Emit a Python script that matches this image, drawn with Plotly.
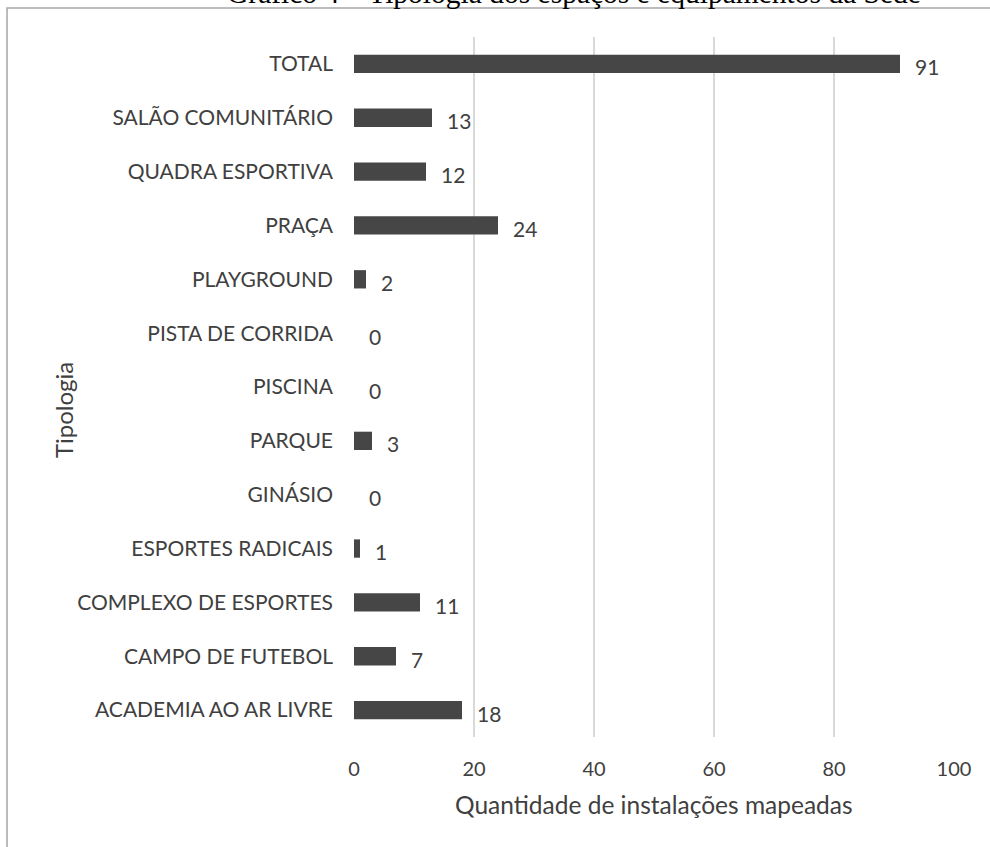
import plotly.graph_objects as go

categories = [
    "ACADEMIA AO AR LIVRE",
    "CAMPO DE FUTEBOL",
    "COMPLEXO DE ESPORTES",
    "ESPORTES RADICAIS",
    "GINÁSIO",
    "PARQUE",
    "PISCINA",
    "PISTA DE CORRIDA",
    "PLAYGROUND",
    "PRAÇA",
    "QUADRA ESPORTIVA",
    "SALÃO COMUNITÁRIO",
    "TOTAL",
]
values = [18, 7, 11, 1, 0, 3, 0, 0, 2, 24, 12, 13, 91]
x_ticks = [0, 20, 40, 60, 80, 100]

title_text = "Gráfico 4 – Tipologia dos espaços e equipamentos da Sede"
x_title = "Quantidade de instalações mapeadas"
y_title = "Tipologia"

FONT = "Lato"
TXT = "#404040"

fig = go.Figure()
fig.add_trace(go.Bar(
    x=values, y=categories, orientation="h",
    width=0.34,
    marker=dict(color="#464646", line=dict(width=0)),
    hoverinfo="x+y",
))

annotations = []
for c, v in zip(categories, values):
    annotations.append(dict(
        x=v, y=c, xref="x", yref="y", text=str(v), showarrow=False,
        xanchor="left", yanchor="middle", xshift=13, yshift=-3,
        font=dict(family=FONT, size=21, color=TXT),
    ))

# axis titles
annotations.append(dict(
    x=0.5, y=-0.0964, xref="paper", yref="paper", text=x_title, showarrow=False,
    xanchor="center", yanchor="middle",
    font=dict(family=FONT, size=24.5, color=TXT),
))
annotations.append(dict(
    x=-0.485, y=0.467, xref="paper", yref="paper", text=y_title, showarrow=False,
    xanchor="center", yanchor="middle", textangle=-90,
    font=dict(family=FONT, size=24, color=TXT),
))
# clipped document caption at the very top
annotations.append(dict(
    x=0.367, y=1.0375, xref="paper", yref="paper", text=title_text, showarrow=False,
    xanchor="center", yanchor="bottom",
    font=dict(family="Liberation Serif", size=29.5, color="#000000"),
))

fig.update_layout(
    width=990, height=847,
    margin=dict(l=354, r=36, t=37, b=110),
    paper_bgcolor="white", plot_bgcolor="white",
    showlegend=False,
    annotations=annotations,
    shapes=[dict(
        type="rect", xref="paper", yref="paper",
        x0=-0.5783, x1=1.1, y0=1.0414, y1=-0.2,
        line=dict(color="#a6a6a6", width=1.5), fillcolor="rgba(0,0,0,0)",
        layer="below",
    )],
    xaxis=dict(
        range=[0, 100], tickvals=x_ticks, showgrid=True,
        gridcolor="#d9d9d9", gridwidth=1.5, zeroline=False, showline=False,
        tickfont=dict(family=FONT, size=20, color=TXT),
        ticklabelstandoff=18,
    ),
    yaxis=dict(
        categoryorder="array", categoryarray=categories,
        showgrid=False, zeroline=False, showline=False,
        tickfont=dict(family=FONT, size=21, color=TXT),
        ticklabelstandoff=20,
    ),
)

fig.write_html(
    "out.html",
    config={"displayModeBar": False},
    post_script="document.body.style.margin='0';document.body.style.overflow='hidden';",
)
